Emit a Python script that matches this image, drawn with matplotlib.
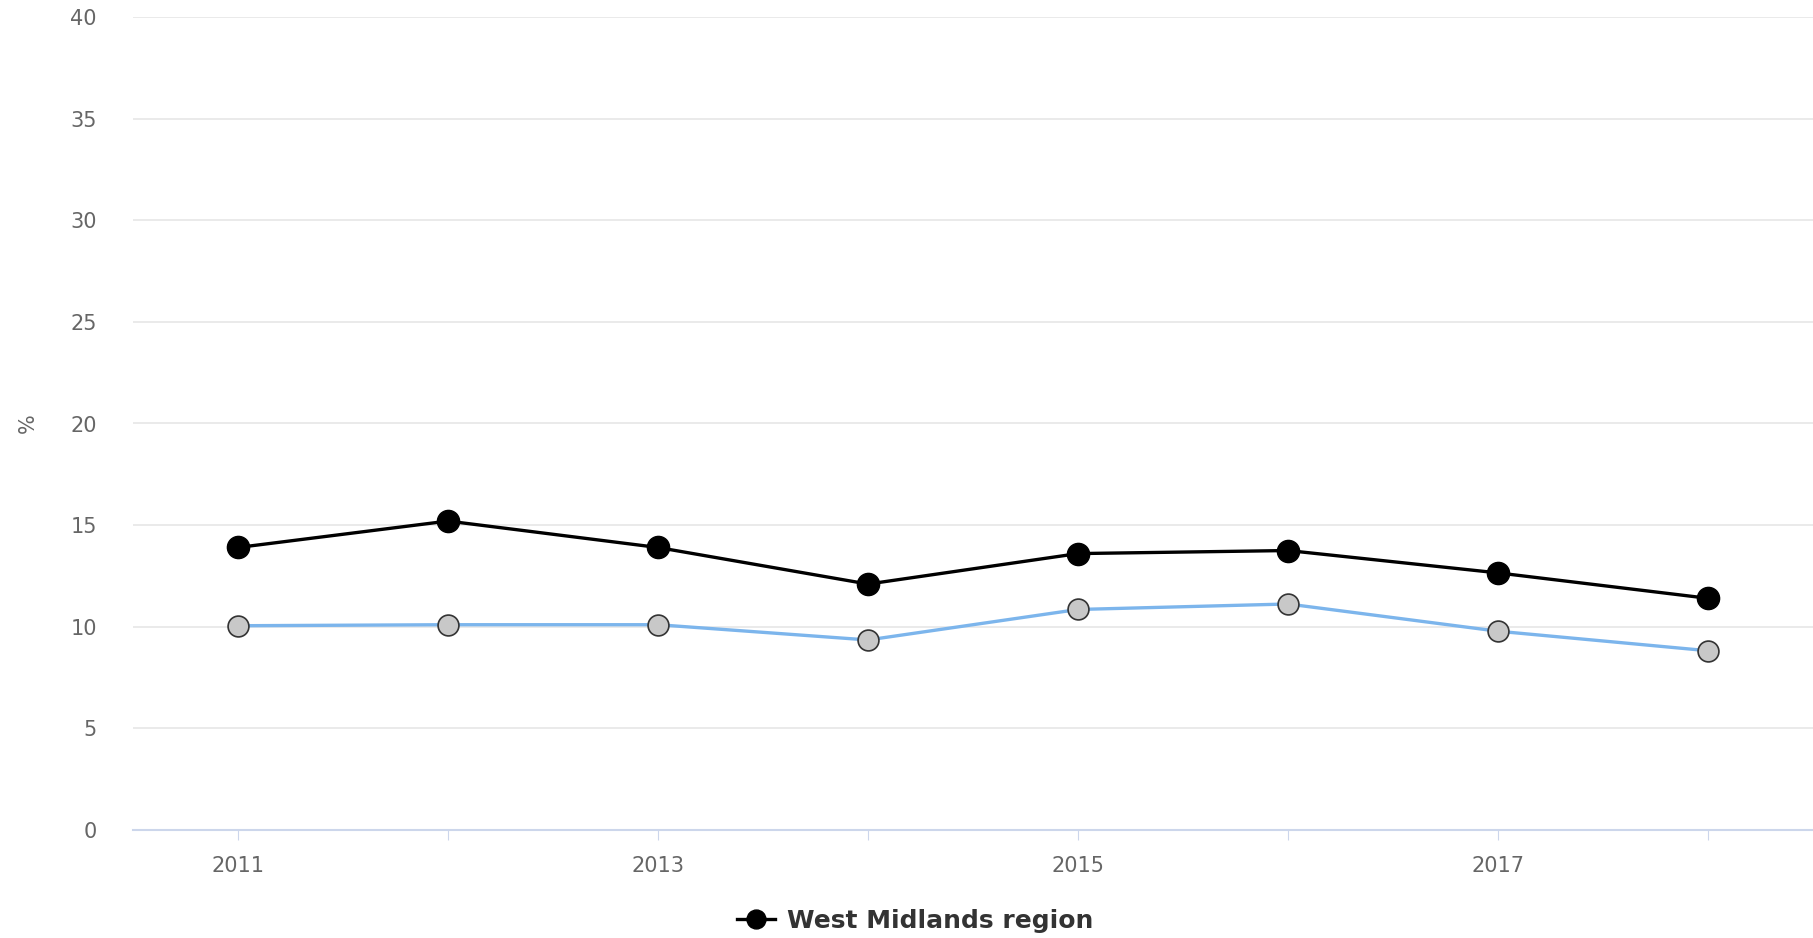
import matplotlib.pyplot as plt

# Data
years = [2011, 2012, 2013, 2014, 2015, 2016, 2017, 2018]
west_midlands = [13.9, 15.2, 13.9, 12.1, 13.6, 13.75, 12.65, 11.4]
comparison = [10.05, 10.1, 10.1, 9.35, 10.85, 11.12, 9.78, 8.82]
y_ticks = [0, 5, 10, 15, 20, 25, 30, 35, 40]
x_labels = ['2011', '', '2013', '', '2015', '', '2017', '']

fig = plt.figure(figsize=(18.13, 9.38), dpi=100)
ax = fig.add_axes([133 / 1813, 1 - 830 / 938, 1 - 133 / 1813, (830 - 17) / 938])

# Lines
ax.plot(years, comparison, color='#7cb5ec', linewidth=2.4, marker='o',
        markersize=15, markerfacecolor='#c8c8c8', markeredgecolor='#333333',
        markeredgewidth=1.2, zorder=3)
line, = ax.plot(years, west_midlands, color='black', linewidth=2.4, marker='o',
                markersize=16, markerfacecolor='black', markeredgecolor='black',
                zorder=4, label='West Midlands region')

# Axes styling
ax.set_xlim(2010.5, 2018.5)
ax.set_ylim(0, 40)
ax.set_yticks(y_ticks)
ax.set_xticks(years)
ax.set_xticklabels(x_labels)
ax.grid(axis='y', color='#e6e6e6', linewidth=1.2)
ax.set_axisbelow(True)
for s in ['top', 'right', 'left']:
    ax.spines[s].set_visible(False)
ax.spines['bottom'].set_color('#ccd6eb')
ax.spines['bottom'].set_linewidth(1.5)
ax.tick_params(axis='y', length=0, pad=26, labelsize=15, labelcolor='#666666')
ax.tick_params(axis='x', length=7, color='#ccd6eb', pad=12, labelsize=15,
               labelcolor='#666666')

ax.set_ylabel('%', fontsize=15, color='#666666')
ax.yaxis.set_label_coords(-95 / 1680, 0.5)

# Legend (only the black series)
fig.legend(handles=[line], loc='center', bbox_to_anchor=(0.505, 0.018),
           frameon=False, handlelength=1.5, handletextpad=0.5,
           prop={'weight': 'bold', 'size': 18}, labelcolor='#333333',
           markerscale=0.85)

fig.savefig('out.png', dpi=100)
